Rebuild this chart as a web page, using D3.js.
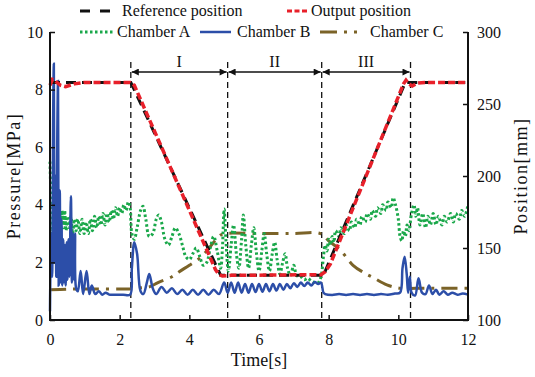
<!DOCTYPE html>
<html>
<head>
<meta charset="utf-8">
<script src="https://cdn.jsdelivr.net/npm/d3@7"></script>
<style>
	body { margin: 0; background: #fff; }
	svg, text { font-family: "Liberation Serif", "Times New Roman", "DejaVu Serif", serif; fill: #111; }
</style>
</head>
<body>
<div id="chart"></div>
<script>
// time [s], pressure [MPa]
const chamberA = [
	[0,5.5],[0.03,4.0],[0.06,2.3],[0.09,3.5],[0.12,4.2],[0.15,3.6],[0.18,4.0],[0.22,3.3],[0.26,3.9],[0.3,3.4],
	[0.34,3.8],[0.38,3.2],[0.42,3.8],[0.46,3.1],[0.5,3.6],[0.55,3.2],[0.6,3.6],[0.65,3.0],[0.7,3.5],[0.75,3.1],
	[0.8,3.5],[0.86,3.0],[0.92,3.5],[0.98,3.0],[1.04,3.4],[1.1,3.0],[1.16,3.5],[1.22,3.1],[1.28,3.6],[1.34,3.2],
	[1.4,3.6],[1.46,3.3],[1.52,3.7],[1.58,3.3],[1.64,3.7],[1.7,3.4],[1.76,3.8],[1.82,3.5],[1.88,3.9],[1.94,3.6],
	[2.0,3.9],[2.06,3.7],[2.12,4.0],[2.18,3.8],[2.25,4.1],[2.3,3.9],[2.35,3.0],[2.42,2.8],[2.5,3.2],[2.6,3.8],
	[2.67,3.95],[2.75,3.5],[2.85,2.9],[2.95,3.0],[3.05,3.5],[3.12,3.65],[3.2,3.4],[3.3,2.8],[3.4,2.6],[3.5,2.9],
	[3.6,3.2],[3.7,3.0],[3.8,2.6],[3.9,2.2],[4.0,2.1],[4.1,2.3],[4.2,2.5],[4.3,2.2],[4.4,1.9],[4.5,2.0],
	[4.6,2.5],[4.7,2.9],[4.8,2.4],[4.9,1.8],[4.95,2.5],[5.0,3.85],[5.05,2.8],[5.12,1.7],[5.2,2.6],[5.27,3.3],
	[5.35,2.3],[5.42,1.8],[5.5,2.8],[5.55,3.65],[5.62,2.6],[5.7,1.8],[5.78,2.6],[5.85,3.2],[5.92,2.4],[6.0,1.7],
	[6.08,2.4],[6.15,3.0],[6.22,2.3],[6.3,1.7],[6.38,2.3],[6.45,2.7],[6.52,2.1],[6.6,1.6],[6.68,2.0],[6.75,2.3],
	[6.82,1.8],[6.9,1.55],[7.0,1.9],[7.08,1.55],[7.2,1.5],[7.3,1.4],[7.4,1.45],[7.5,1.35],[7.6,1.3],[7.7,1.3],
	[7.78,1.5],[7.85,2.2],[7.9,2.6],[7.95,2.4],[8.0,2.8],[8.05,2.6],[8.1,2.9],[8.15,2.7],[8.2,3.1],[8.3,2.9],
	[8.35,3.2],[8.45,3.0],[8.5,3.3],[8.6,3.1],[8.65,3.4],[8.75,3.2],[8.8,3.5],[8.9,3.3],[8.95,3.6],[9.05,3.4],
	[9.1,3.7],[9.2,3.5],[9.25,3.8],[9.35,3.6],[9.4,3.9],[9.5,3.7],[9.55,4.0],[9.65,3.8],[9.7,4.1],[9.8,3.9],
	[9.85,4.25],[9.92,4.0],[10.0,3.5],[10.05,2.9],[10.1,2.75],[10.15,3.1],[10.2,2.9],[10.25,3.3],[10.3,3.1],[10.38,3.7],
	[10.45,4.0],[10.5,3.6],[10.55,3.9],[10.62,3.3],[10.7,3.7],[10.78,3.2],[10.85,3.6],[10.92,3.3],[11.0,3.7],[11.08,3.3],
	[11.15,3.6],[11.25,3.3],[11.32,3.6],[11.4,3.4],[11.5,3.7],[11.58,3.4],[11.65,3.7],[11.75,3.5],[11.82,3.8],[11.9,3.6],
	[12.0,4.0]
];

const chamberB = [
	[0,0.3],[0.03,3.0],[0.06,1.5],[0.09,7.0],[0.11,8.9],[0.13,2.0],[0.16,5.0],[0.18,1.5],[0.21,6.5],[0.23,8.3],
	[0.25,1.2],[0.28,4.5],[0.3,1.3],[0.33,3.5],[0.35,1.2],[0.38,2.8],[0.4,1.3],[0.43,2.6],[0.45,1.2],[0.48,2.7],
	[0.5,1.4],[0.53,2.8],[0.56,1.5],[0.6,4.3],[0.63,1.3],[0.66,3.0],[0.69,1.4],[0.72,3.0],[0.75,1.1],[0.8,1.0],
	[0.88,1.7],[0.95,0.9],[1.05,1.7],[1.13,0.9],[1.2,1.2],[1.3,0.9],[1.4,1.0],[1.5,0.88],[1.6,0.95],[1.7,0.88],
	[1.9,0.88],[2.1,0.88],[2.3,0.88],[2.35,1.8],[2.42,2.7],[2.5,2.3],[2.6,1.0],[2.68,0.9],[2.78,1.3],[2.85,1.6],
	[2.95,1.1],[3.05,0.9],[3.2,1.15],[3.35,0.95],[3.5,1.1],[3.65,0.9],[3.8,1.05],[3.95,0.88],[4.1,1.05],[4.25,0.88],
	[4.4,1.05],[4.55,0.88],[4.7,1.05],[4.85,0.9],[5.0,1.3],[5.1,0.95],[5.2,1.3],[5.3,0.95],[5.4,1.3],[5.5,0.95],
	[5.6,1.25],[5.7,0.95],[5.8,1.25],[5.9,0.97],[6.0,1.25],[6.1,0.98],[6.2,1.25],[6.3,1.0],[6.4,1.25],[6.5,1.02],
	[6.6,1.25],[6.7,1.05],[6.8,1.25],[6.9,1.1],[7.0,1.28],[7.1,1.15],[7.2,1.3],[7.3,1.18],[7.4,1.3],[7.5,1.2],
	[7.6,1.32],[7.7,1.25],[7.78,1.3],[7.85,0.95],[7.9,0.9],[8.1,0.87],[8.3,0.9],[8.5,0.87],[8.7,0.9],[8.9,0.87],
	[9.1,0.9],[9.3,0.87],[9.5,0.9],[9.7,0.88],[9.9,0.92],[10.05,0.95],[10.12,1.8],[10.18,2.2],[10.24,1.6],[10.28,0.95],
	[10.33,1.5],[10.38,0.95],[10.48,0.85],[10.58,1.45],[10.68,0.95],[10.78,0.9],[10.88,1.2],[10.98,0.9],[11.08,1.05],[11.18,0.88],
	[11.3,1.0],[11.42,0.88],[11.55,0.95],[11.7,0.88],[11.85,0.92],[12.0,0.88]
];

const chamberC = [
	[0,1.05],[0.5,1.07],[1.0,1.08],[2.3,1.08],[2.6,1.12],[2.85,1.15],[3.1,1.3],[3.5,1.5],[3.7,1.67],[4.0,1.9],
	[4.3,2.15],[4.5,2.4],[4.7,2.7],[4.9,2.95],[5.0,3.0],[6.0,3.0],[7.0,3.0],[7.76,3.0],[8.0,2.75],[8.33,2.43],
	[8.7,1.9],[9.0,1.65],[9.28,1.47],[9.67,1.22],[10.05,1.1],[10.5,1.1],[11.0,1.1],[12.0,1.1]
];

// time [s], position [mm]
const referencePosition = [[0,265],[2.32,265],[4.9,131],[7.85,131],[10.2,265],[12,265]];
const outputPosition = [
	[0,263],[0.07,267],[0.15,266],[0.3,263],[0.45,262],[0.7,264],[1.0,265],[2.3,265],[2.42,263],[4.75,135],
	[4.85,131.5],[4.95,130.5],[5.2,131],[7.78,131.5],[7.9,133.5],[8.05,139],[10.15,264],[10.22,266.5],[10.3,264],[10.4,262.5],
	[10.55,264.5],[10.8,265],[12,265]
];

const phaseBounds = [2.32, 5.1, 7.8, 10.35];
const phaseLabels = ['I', 'II', 'III'];
const xTicks = [0, 2, 4, 6, 8, 10, 12];
const pressureTicks = [0, 2, 4, 6, 8, 10];
const positionTicks = [100, 150, 200, 250, 300];

const width = 535, height = 377;
const m = { left: 50, right: 468, top: 32, bottom: 320 };

const svg = d3.select('#chart').append('svg')
	.attr('width', width)
	.attr('height', height);

const x = d3.scaleLinear().domain([0, 12]).range([m.left, m.right]);
const yP = d3.scaleLinear().domain([0, 10]).range([m.bottom, m.top]);
const yPos = d3.scaleLinear().domain([100, 300]).range([m.bottom, m.top]);

const smoothLine = d3.line().x(d => x(d[0])).y(d => yP(d[1])).curve(d3.curveCatmullRom.alpha(0.5));
const positionLine = d3.line().x(d => x(d[0])).y(d => yPos(d[1]));

const plot = svg.append('g');

// phase lines
plot.selectAll('.phase')
	.data(phaseBounds)
	.enter().append('line')
	.attr('x1', d => x(d)).attr('x2', d => x(d))
	.attr('y1', 62).attr('y2', m.bottom)
	.attr('stroke', '#111')
	.attr('stroke-width', 1.3)
	.attr('stroke-dasharray', '6,4');

const defs = svg.append('defs');
defs.append('marker')
	.attr('id', 'arr')
	.attr('viewBox', '0 0 10 10')
	.attr('refX', 10).attr('refY', 5)
	.attr('markerWidth', 11).attr('markerHeight', 7)
	.attr('markerUnits', 'userSpaceOnUse')
	.attr('orient', 'auto-start-reverse')
	.append('path')
	.attr('d', 'M0,0L10,5L0,10Z')
	.attr('fill', '#111');

const arrowY = 72;
phaseLabels.forEach((lab, i) => {
	const x0 = x(phaseBounds[i]), x1 = x(phaseBounds[i + 1]);
	plot.append('line')
		.attr('x1', x0 + 1).attr('x2', x1 - 1)
		.attr('y1', arrowY).attr('y2', arrowY)
		.attr('stroke', '#111')
		.attr('stroke-width', 1.3)
		.attr('marker-start', 'url(#arr)')
		.attr('marker-end', 'url(#arr)');
	plot.append('text')
		.attr('x', (x0 + x1) / 2)
		.attr('y', arrowY - 5)
		.attr('text-anchor', 'middle')
		.attr('font-size', 16)
		.text(lab);
});

plot.append('path').datum(chamberC)
	.attr('d', smoothLine)
	.attr('fill', 'none')
	.attr('stroke', '#7b6328')
	.attr('stroke-width', 3)
	.attr('stroke-dasharray', '16,7,3,7');

plot.append('path').datum(chamberA)
	.attr('d', smoothLine)
	.attr('fill', 'none')
	.attr('stroke', '#1aa84a')
	.attr('stroke-width', 3)
	.attr('stroke-dasharray', '2.5,2.5');

plot.append('path').datum(chamberB)
	.attr('d', smoothLine)
	.attr('fill', 'none')
	.attr('stroke', '#2c4ea8')
	.attr('stroke-width', 2.5);

plot.append('path').datum(referencePosition)
	.attr('d', positionLine)
	.attr('fill', 'none')
	.attr('stroke', '#111')
	.attr('stroke-width', 3)
	.attr('stroke-dasharray', '10,6');

plot.append('path').datum(outputPosition)
	.attr('d', positionLine)
	.attr('fill', 'none')
	.attr('stroke', '#e8202a')
	.attr('stroke-width', 3.5)
	.attr('stroke-dasharray', '7,3');

// axes
const axisStyle = g => {
	g.attr('font-family', null);
	g.select('.domain').remove();
	g.selectAll('line').attr('stroke', '#111').attr('stroke-width', 1.5);
	g.selectAll('text').attr('font-size', 16).attr('fill', '#111');
};

svg.append('g')
	.attr('transform', `translate(0,${m.bottom})`)
	.call(d3.axisBottom(x).tickValues(xTicks).tickSize(-5).tickPadding(14).tickFormat(d3.format('d')))
	.call(axisStyle);

svg.append('g')
	.attr('transform', `translate(${m.left},0)`)
	.call(d3.axisLeft(yP).tickValues(pressureTicks).tickSize(-5).tickPadding(7).tickFormat(d3.format('d')))
	.call(axisStyle);

svg.append('g')
	.attr('transform', `translate(${m.right},0)`)
	.call(d3.axisRight(yPos).tickValues(positionTicks).tickSize(-5).tickPadding(9).tickFormat(d3.format('d')))
	.call(axisStyle);

svg.append('path')
	.attr('d', `M${m.left},${m.top}V${m.bottom}H${m.right}V${m.top}`)
	.attr('fill', 'none')
	.attr('stroke', '#111')
	.attr('stroke-width', 2);

svg.append('text')
	.attr('x', (m.left + m.right) / 2)
	.attr('y', 366)
	.attr('text-anchor', 'middle')
	.attr('font-size', 18)
	.text('Time[s]');

svg.append('text')
	.attr('transform', `translate(20,${(m.top + m.bottom) / 2}) rotate(-90)`)
	.attr('text-anchor', 'middle')
	.attr('font-size', 18)
	.attr('letter-spacing', 1.5)
	.text('Pressure[MPa]');

svg.append('text')
	.attr('transform', `translate(527,${(m.top + m.bottom) / 2}) rotate(-90)`)
	.attr('text-anchor', 'middle')
	.attr('font-size', 18)
	.attr('letter-spacing', 1.5)
	.text('Position[mm]');

// legend
const legend = [
	{ name: 'Reference position', x: 80, y: 11, len: 30, color: '#111', w: 3, dash: '10,10', gap: 12 },
	{ name: 'Output position', x: 287, y: 11, len: 20, color: '#e8202a', w: 3, dash: '5,2.5', gap: 4 },
	{ name: 'Chamber A', x: 80, y: 32, len: 33, color: '#1aa84a', w: 3, dash: '2.5,2.5', gap: 4 },
	{ name: 'Chamber B', x: 200, y: 32, len: 31, color: '#2c4ea8', w: 2.5, dash: null, gap: 6 },
	{ name: 'Chamber C', x: 320, y: 32, len: 38, color: '#7b6328', w: 3, dash: '17,7,3,7,3,20', gap: 12 }
];
const lg = svg.append('g').selectAll('g').data(legend).enter().append('g');
lg.append('line')
	.attr('x1', d => d.x).attr('x2', d => d.x + d.len)
	.attr('y1', d => d.y).attr('y2', d => d.y)
	.attr('stroke', d => d.color)
	.attr('stroke-width', d => d.w)
	.attr('stroke-dasharray', d => d.dash);
lg.append('text')
	.attr('x', d => d.x + d.len + d.gap)
	.attr('y', d => d.y + 5)
	.attr('font-size', 16)
	.text(d => d.name);
</script>
</body>
</html>
